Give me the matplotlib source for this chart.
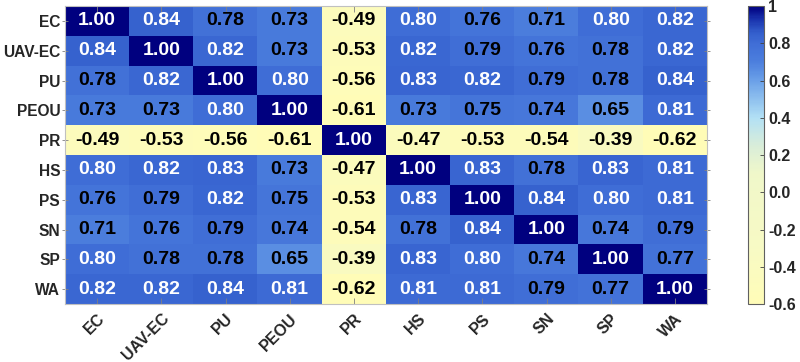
import numpy as np
import matplotlib
matplotlib.use("Agg")
import matplotlib.pyplot as plt
from matplotlib.colors import LinearSegmentedColormap

plt.rcParams['font.family'] = ['Liberation Sans', 'DejaVu Sans']
plt.rcParams['font.weight'] = 'bold'

labels = ["EC", "UAV-EC", "PU", "PEOU", "PR", "HS", "PS", "SN", "SP", "WA"]

row_ec = [1.00, 0.84, 0.78, 0.73, -0.49, 0.80, 0.76, 0.71, 0.80, 0.82]
row_uav = [0.84, 1.00, 0.82, 0.73, -0.53, 0.82, 0.79, 0.76, 0.78, 0.82]
row_pu = [0.78, 0.82, 1.00, 0.80, -0.56, 0.83, 0.82, 0.79, 0.78, 0.84]
row_peou = [0.73, 0.73, 0.80, 1.00, -0.61, 0.73, 0.75, 0.74, 0.65, 0.81]
row_pr = [-0.49, -0.53, -0.56, -0.61, 1.00, -0.47, -0.53, -0.54, -0.39, -0.62]
row_hs = [0.80, 0.82, 0.83, 0.73, -0.47, 1.00, 0.83, 0.78, 0.83, 0.81]
row_ps = [0.76, 0.79, 0.82, 0.75, -0.53, 0.83, 1.00, 0.84, 0.80, 0.81]
row_sn = [0.71, 0.76, 0.79, 0.74, -0.54, 0.78, 0.84, 1.00, 0.74, 0.79]
row_sp = [0.80, 0.78, 0.78, 0.65, -0.39, 0.83, 0.80, 0.74, 1.00, 0.77]
row_wa = [0.82, 0.82, 0.84, 0.81, -0.62, 0.81, 0.81, 0.79, 0.77, 1.00]

corr = np.array([row_ec, row_uav, row_pu, row_peou, row_pr,
                 row_hs, row_ps, row_sn, row_sp, row_wa])

vmin, vmax = -0.6, 1.0

# yellow -> pale green -> light blue -> blue -> navy
nodes = [(-0.6, (1.00, 0.99, 0.72)),
         (-0.3, (0.97, 0.98, 0.77)),
         (0.1, (0.94, 0.97, 0.79)),
         (0.25, (0.85, 0.93, 0.85)),
         (0.4, (0.70, 0.88, 0.96)),
         (0.6, (0.42, 0.63, 0.91)),
         (0.7, (0.30, 0.50, 0.87)),
         (0.8, (0.25, 0.43, 0.84)),
         (0.86, (0.20, 0.37, 0.80)),
         (0.93, (0.10, 0.20, 0.68)),
         (1.0, (0.00, 0.00, 0.50))]
cmap = LinearSegmentedColormap.from_list(
    "corr", [((v - vmin) / (vmax - vmin), c) for v, c in nodes])

fig = plt.figure(figsize=(8, 3.62), dpi=100)
ax = fig.add_axes([0.08125, 0.1602, 0.8025, 0.8232])
cax = fig.add_axes([0.935, 0.1602, 0.02, 0.8232])

im = ax.imshow(corr, cmap=cmap, vmin=vmin, vmax=vmax, aspect='auto',
               interpolation='nearest')

for i in range(len(labels)):
    for j in range(len(labels)):
        val = corr[i, j]
        ax.text(j, i, f"{val:.2f}", ha='center', va='center',
                fontsize=14, fontweight='bold',
                color='white' if val >= 0.795 else 'black')

ax.set_xticks(np.arange(len(labels)))
ax.set_yticks(np.arange(len(labels)))
ax.set_xticklabels(labels, rotation=45, ha='right', rotation_mode='anchor',
                   fontsize=11.5, fontweight='bold', color='#262626')
ax.set_yticklabels(labels, fontsize=11.2, fontweight='bold', color='#262626')
ax.tick_params(axis='x', direction='in', length=4, width=0.6, color='#808080',
               top=True, pad=5)
ax.tick_params(axis='y', direction='inout', length=5, width=0.6, color='#808080',
               right=True, pad=1)
for sp in ax.spines.values():
    sp.set_color('#c0c0c0')
    sp.set_linewidth(0.8)

cb = fig.colorbar(im, cax=cax)
cb.set_ticks([1.0, 0.8, 0.6, 0.4, 0.2, 0.0, -0.2, -0.4, -0.6])
cb.set_ticklabels(["1", "0.8", "0.6", "0.4", "0.2", "0.0", "-0.2", "-0.4", "-0.6"])
cax.tick_params(direction='in', length=3, width=0.6, color='#404040',
                labelsize=11.5, labelcolor='#262626', pad=3)
cb.outline.set_edgecolor('#606060')
cb.outline.set_linewidth(0.8)
for t in cax.get_yticklabels():
    t.set_fontweight('bold')

fig.savefig("out.png", dpi=100)
